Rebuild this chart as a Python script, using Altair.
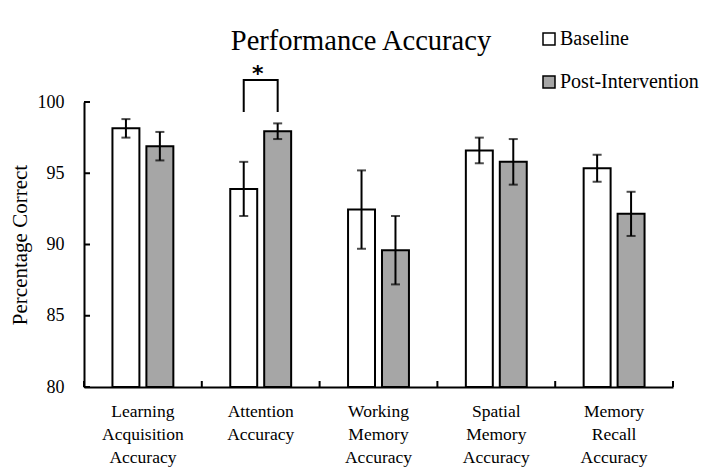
import altair as alt
import pandas as pd

categories = ["Learning Acquisition Accuracy", "Attention Accuracy",
              "Working Memory Accuracy", "Spatial Memory Accuracy",
              "Memory Recall Accuracy"]
series = ["Baseline", "Post-Intervention"]
baseline = [98.15, 93.9, 92.45, 96.6, 95.35]
baseline_err = [0.65, 1.9, 2.75, 0.9, 0.95]
post = [96.9, 97.95, 89.6, 95.8, 92.15]
post_err = [1.0, 0.55, 2.4, 1.6, 1.55]
y_ticks = [80, 85, 90, 95, 100]
bracket_low, bracket_high = 99.3, 101.55

W, H = 589, 285
SERIF = "Liberation Serif"

rows = []
for i, c in enumerate(categories):
    rows.append({"cat": c, "series": series[0], "value": baseline[i],
                 "lo": baseline[i] - baseline_err[i], "hi": baseline[i] + baseline_err[i]})
    rows.append({"cat": c, "series": series[1], "value": post[i],
                 "lo": post[i] - post_err[i], "hi": post[i] + post_err[i]})
df = pd.DataFrame(rows)

ydom = alt.Scale(domain=[80, 100], nice=False, zero=False)
x_enc = alt.X("cat:N", sort=categories, scale=alt.Scale(paddingInner=0, paddingOuter=0),
              axis=alt.Axis(title=None, labelExpr="split(datum.label, ' ')", labelAngle=0,
                            labelFont=SERIF, labelFontSize=17.5, labelColor="black",
                            labelLineHeight=23, labelPadding=15, ticks=False,
                            domainColor="black", domainWidth=2, labelBaseline="top"))
xoff = alt.XOffset("series:N", sort=series,
                   scale=alt.Scale(paddingInner=0.206, paddingOuter=0.838))

base = alt.Chart(df)

bars = base.mark_bar(stroke="black", strokeWidth=2).encode(
    x=x_enc, xOffset=xoff,
    y=alt.Y("value:Q", scale=ydom,
            axis=alt.Axis(values=y_ticks, title="Percentage Correct", ticks=False, grid=False,
                          labelFont=SERIF, labelFontSize=18, labelColor="black", labelPadding=20,
                          titleFont=SERIF, titleFontSize=21, titleFontWeight="normal",
                          titleColor="black", titlePadding=7,
                          domainColor="black", domainWidth=2)),
    y2=alt.datum(80),
    color=alt.Color("series:N", sort=series,
                    scale=alt.Scale(domain=series, range=["white", "#a6a6a6"]),
                    legend=alt.Legend(title=None, orient="none", legendX=455, legendY=-73,
                                      symbolType="square", symbolSize=144,
                                      symbolStrokeColor="black", symbolStrokeWidth=1.5,
                                      labelFont=SERIF, labelFontSize=20, labelColor="black",
                                      rowPadding=23, labelOffset=1)),
)

err = base.mark_rule(color="black", strokeWidth=2).encode(
    x=alt.X("cat:N", sort=categories), xOffset=xoff,
    y=alt.Y("lo:Q", scale=ydom), y2="hi:Q")
cap_lo = base.mark_tick(color="black", thickness=2, size=9).encode(
    x=alt.X("cat:N", sort=categories), xOffset=xoff, y=alt.Y("lo:Q", scale=ydom))
cap_hi = base.mark_tick(color="black", thickness=2, size=9).encode(
    x=alt.X("cat:N", sort=categories), xOffset=xoff, y=alt.Y("hi:Q", scale=ydom))

ytick_df = pd.DataFrame({"t": y_ticks})
yticks = alt.Chart(ytick_df).mark_rule(color="black", strokeWidth=2).encode(
    y=alt.Y("t:Q", scale=ydom), x=alt.value(0), x2=alt.value(6))

xtick_df = pd.DataFrame({"cat": categories})
xticks = alt.Chart(xtick_df).mark_rule(color="black", strokeWidth=2).encode(
    x=alt.X("cat:N", sort=categories, bandPosition=0),
    y=alt.value(H), y2=alt.value(H - 6))
xtick_end = alt.Chart(xtick_df.head(1)).mark_rule(color="black", strokeWidth=2).encode(
    x=alt.value(W), y=alt.value(H), y2=alt.value(H - 6))

br_df = pd.DataFrame({
    "cat": ["Attention Accuracy"] * 4,
    "series": [series[0], series[0], series[1], series[1]],
    "yv": [bracket_low, bracket_high, bracket_high, bracket_low],
    "o": [0, 1, 2, 3],
})
bracket = alt.Chart(br_df).mark_line(color="black", strokeWidth=2).encode(
    x=alt.X("cat:N", sort=categories), xOffset=xoff,
    y=alt.Y("yv:Q", scale=ydom), order="o:Q")

star_df = pd.DataFrame({"cat": ["Attention Accuracy"], "yv": [bracket_high], "txt": ["*"]})
star = alt.Chart(star_df).mark_text(font="DejaVu Sans", fontWeight="bold", fontSize=22,
                                    baseline="alphabetic", color="black", dx=-3, dy=1).encode(
    x=alt.X("cat:N", sort=categories), y=alt.Y("yv:Q", scale=ydom), text="txt:N")

title_df = pd.DataFrame({"txt": ["Performance  Accuracy"]})
title = alt.Chart(title_df).mark_text(font=SERIF, fontSize=28.5, baseline="alphabetic",
                                      align="center", color="black").encode(
    x=alt.value(277), y=alt.value(-52), text="txt:N")

chart = alt.layer(bars, err, cap_lo, cap_hi, yticks, xticks, xtick_end, bracket, star, title).properties(
    width=W, height=H,
    autosize=alt.AutoSizeParams(type="none"),
    padding={"left": 84, "top": 102, "right": 31, "bottom": 86},
    background="white",
).configure_view(stroke=None).configure_axis(grid=False)

chart.save("out.html", embed_options={"renderer": "svg", "actions": False})
